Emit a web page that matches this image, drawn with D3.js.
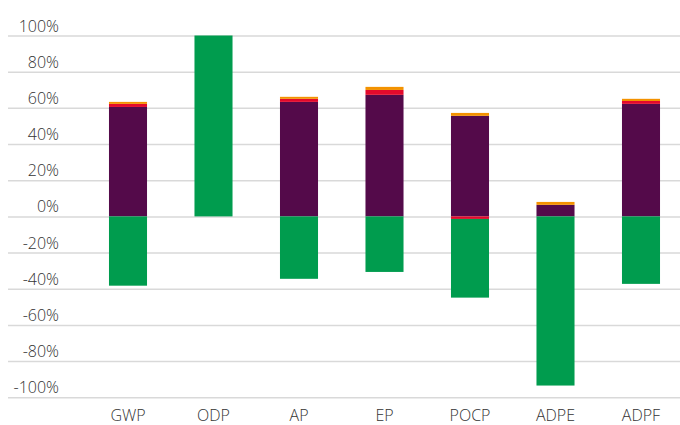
<!DOCTYPE html>
<html>
<head>
<meta charset="utf-8">
<script src="https://cdn.jsdelivr.net/npm/d3@7"></script>
<style>
  html, body { margin: 0; padding: 0; background: #fff; }
  svg { display: block; }
  text { font-family: "Open Sans", sans-serif; font-weight: 300; fill: #333; }
</style>
</head>
<body>
<svg id="chart" width="680" height="425"></svg>
<script>
const categories = ["GWP", "ODP", "AP", "EP", "POCP", "ADPE", "ADPF"];
const seriesNames = ["purple", "red", "orange", "green"];
const purpleValues = [60.5, 0, 63.3, 67.2, 55.6, 6.4, 62.2];
const redValues    = [1.7, 0, 1.7, 2.7, -1.4, 0, 1.6];
const orangeValues = [1.1, 0, 1.1, 1.7, 1.6, 1.6, 1.2];
const greenValues  = [-38.3, 100, -34.5, -30.7, -43.5, -93.5, -37.3];
const tickValues = [-100, -80, -60, -40, -20, 0, 20, 40, 60, 80, 100];
const colors = { purple: "#540a4a", red: "#e30a2c", orange: "#f39200", green: "#009c4e" };

const seriesValues = { purple: purpleValues, red: redValues, orange: orangeValues, green: greenValues };
const table = categories.map((c, i) => {
  const row = { category: c };
  seriesNames.forEach(s => row[s] = seriesValues[s][i]);
  return row;
});

const svg = d3.select("#chart");
const W = 680;

const y = d3.scaleLinear().domain([-100, 100]).range([397.3, 35.5]);
const x = d3.scaleBand().domain(categories).range([85.25, 683.75]).paddingInner(0.555).paddingOuter(0.2775);

// gridlines + labels
const yAxis = d3.axisLeft(y)
  .tickValues(tickValues)
  .tickSize(-(W - 8))
  .tickFormat(d => d + "%");
const gy = svg.append("g").attr("transform", "translate(8,0)").call(yAxis);
gy.select(".domain").remove();
gy.selectAll(".tick line").attr("stroke", "#d9d9d9").attr("stroke-width", 1.5);
gy.selectAll(".tick text")
  .attr("x", 51)
  .attr("dy", -4.5)
  .attr("text-anchor", "end")
  .style("font-size", "16px")
  .style("font-weight", 300)
  .attr("fill", "#333");

// stacked bars
const stack = d3.stack().keys(seriesNames).offset(d3.stackOffsetDiverging);
const stacked = stack(table);

svg.append("g")
  .selectAll("g")
  .data(stacked)
  .join("g")
  .attr("fill", d => colors[d.key])
  .selectAll("rect")
  .data(d => d)
  .join("rect")
  .attr("x", d => x(d.data.category))
  .attr("width", x.bandwidth())
  .attr("y", d => y(Math.max(d[0], d[1])))
  .attr("height", d => Math.abs(y(d[0]) - y(d[1])));

// x axis labels
const xAxis = d3.axisBottom(x).tickSize(0).tickPadding(0);
const gx = svg.append("g").call(xAxis);
gx.select(".domain").remove();
gx.selectAll(".tick text")
  .attr("y", 421)
  .attr("dy", 0)
  .style("font-size", "16px")
  .style("font-weight", 300)
  .attr("fill", "#333");
</script>
</body>
</html>
